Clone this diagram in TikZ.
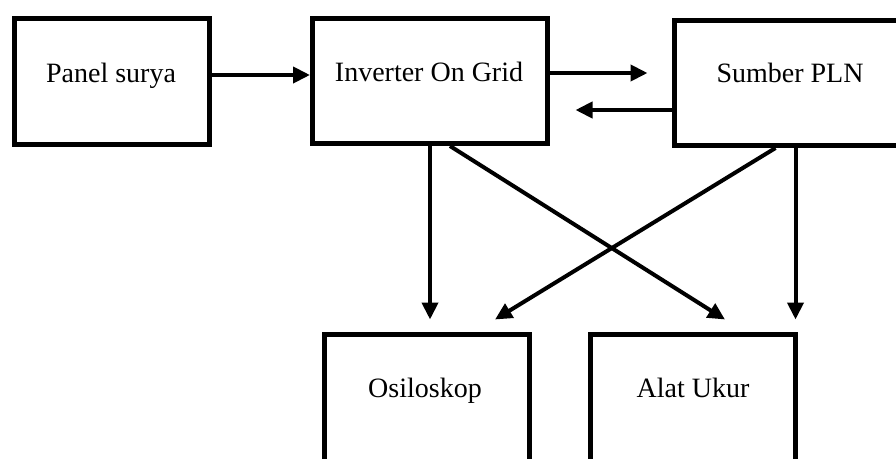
\documentclass[tikz,border=0pt]{standalone}
\usepackage{fontspec}
\setmainfont{Liberation Serif}
\usetikzlibrary{arrows.meta,calc}
\tikzset{
  blockbox/.style={draw=black, line width=5pt, rectangle, inner sep=0pt},
  lbl/.style={inner sep=0pt, anchor=base, font=\fontsize{28}{32}\selectfont},
  arr/.style={line width=4pt, -{Triangle[length=17pt,width=16pt]}},
}
\begin{document}
\begin{tikzpicture}[x=1pt,y=-1pt]
\useasboundingbox (0,0) rectangle (896,458);
\clip (0,0) rectangle (896,458);
% boxes
\node[blockbox, minimum width=195pt, minimum height=126pt] (panel) at (112,81.5) {};
\node[blockbox, minimum width=235pt, minimum height=125pt] (inv) at (430,81) {};
\node[blockbox, minimum width=232pt, minimum height=125pt] (sum) at (790.5,83) {};
\node[blockbox, minimum width=205pt, minimum height=160pt] (osil) at (427,414.5) {};
\node[blockbox, minimum width=205pt, minimum height=160pt] (alat) at (693,414.5) {};
% labels
\node[lbl] (panelt) at (111,82) {Panel surya};
\node[lbl] (invt) at (429,81) {Inverter On Grid};
\node[lbl] (sumt) at (790,82) {Sumber PLN};
\node[lbl] (osilt) at (425,397) {Osiloskop};
\node[lbl] (alatt) at (693,397) {Alat Ukur};
% arrows top row
\draw[arr] ([yshift=6.5pt]panel.east) -- ([yshift=6.5pt]panel.east -| inv.west);
\coordinate (a1) at ([yshift=8pt]inv.east);
\draw[arr, shorten >=24.5pt] (a1) -- (a1 -| sum.west);
\coordinate (a2) at ([yshift=-27pt]sum.west);
\draw[arr, shorten >=25.5pt] (a2) -- (a2 -| inv.east);
% vertical arrows
\draw[arr, shorten >=12.5pt] (inv.south) -- (inv.south |- osil.north);
\coordinate (a3) at ([xshift=5pt]sum.south);
\draw[arr, shorten >=12.5pt] (a3) -- (a3 |- alat.north);
% diagonal arrows
\coordinate (d1s) at ([xshift=20pt]inv.south);
\coordinate (d1e) at ([xshift=32pt,yshift=12.5pt]alat.north);
\draw[arr] (d1s) -- (d1e);
\coordinate (d2s) at ([xshift=-15pt]sum.south);
\coordinate (d2e) at ([xshift=68pt,yshift=12.5pt]osil.north);
\draw[arr] (d2s) -- (d2e);
\end{tikzpicture}
\end{document}
